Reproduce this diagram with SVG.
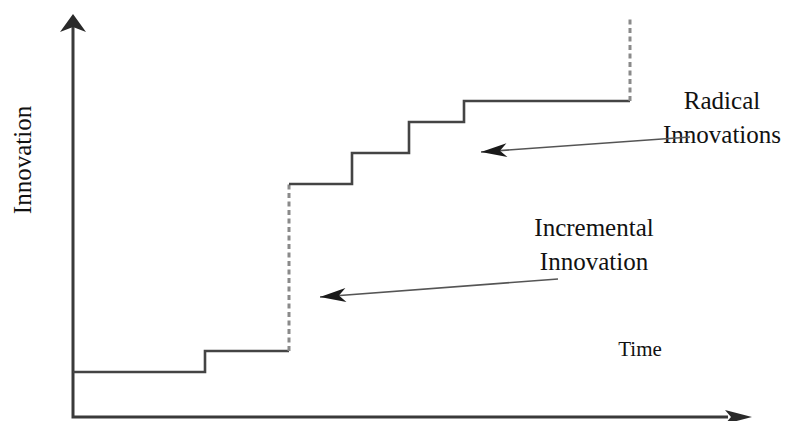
<svg xmlns="http://www.w3.org/2000/svg" width="786" height="421" viewBox="0 0 786 421">
  <style>
    .axis { stroke: #3a3a3a; stroke-width: 3; fill: none; }
    .head { fill: #2a2a2a; stroke: none; }
    .step { stroke: #444; stroke-width: 2.6; fill: none; stroke-linejoin: miter; }
    .jump { stroke: #8a8a8a; stroke-width: 3; fill: none; stroke-dasharray: 5 3.5; }
    .pointer { stroke: #555; stroke-width: 1.6; fill: none; }
    .label { font-family: "Liberation Serif", "Times New Roman", serif; font-size: 25px; fill: #111; text-anchor: middle; }
  </style>
  <defs>
    <marker id="barb" viewBox="0 0 28 16" refX="27" refY="8" markerWidth="28" markerHeight="16" markerUnits="userSpaceOnUse" orient="auto">
      <path d="M27,8 L1,1 L8,8 L1,15 Z" fill="#1a1a1a"/>
    </marker>
  </defs>

  <rect width="786" height="421" fill="#ffffff"/>

  <!-- axes -->
  <g id="axes">
    <path class="axis" d="M73,27 V417 H728"/>
    <path class="head" d="M73,14 L86,32 L73,27 L60,32 Z"/>
    <path class="head" d="M752,417 L725,410 L731,417 L725,424 Z"/>
  </g>

  <!-- innovation curve: incremental steps joined by radical jumps -->
  <g id="staircase">
    <path class="step" d="M73,372 H205 V351 H289"/>
    <path class="jump" d="M289,351 V184"/>
    <path class="step" d="M289,184 H352 V153 H409 V122 H464 V101 H630"/>
    <path class="jump" d="M630,101 V18"/>
  </g>

  <!-- labels -->
  <g id="label-innovation">
    <text class="label" transform="translate(31,160) rotate(-90)">Innovation</text>
  </g>
  <g id="label-radical">
    <text class="label" x="722" y="109">Radical</text>
    <text class="label" x="722" y="143">Innovations</text>
  </g>
  <g id="label-incremental">
    <text class="label" x="594" y="236">Incremental</text>
    <text class="label" x="594" y="270">Innovation</text>
  </g>
  <g id="label-time">
    <text class="label" x="640" y="356" style="font-size:21px">Time</text>
  </g>

  <!-- pointers from labels to the curve -->
  <g id="connectors">
    <line class="pointer" x1="690" y1="137" x2="481" y2="152" marker-end="url(#barb)"/>
    <line class="pointer" x1="558" y1="279" x2="320" y2="297" marker-end="url(#barb)"/>
  </g>
</svg>
